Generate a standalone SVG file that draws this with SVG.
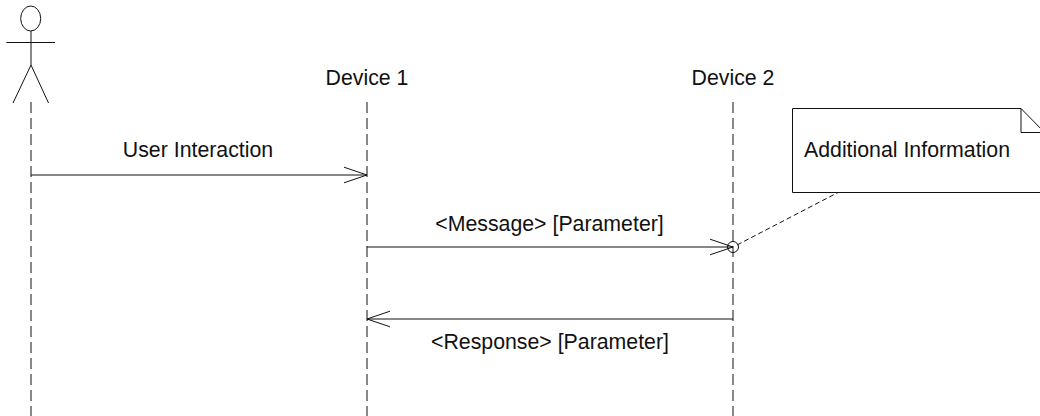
<svg xmlns="http://www.w3.org/2000/svg" width="1040" height="416" viewBox="0 0 1040 416">
<style>
text{font-family:"Liberation Sans",Arial,sans-serif;font-size:21.3px;fill:#111;text-anchor:middle}
.l{fill:none;stroke:#111;stroke-width:1}
.life{fill:none;stroke:#111;stroke-width:1;stroke-dasharray:11 5}
</style>
<defs>
<marker id="open" markerUnits="userSpaceOnUse" markerWidth="28" markerHeight="20" refX="24" refY="10" orient="auto">
<path d="M1 2.200L24 10L1 17.800" fill="none" stroke="#111" stroke-width="1"/>
</marker>
</defs>
<g id="connectors">
<path class="life" d="M31 102V416"/>
<path class="life" d="M367 102V416"/>
<path class="life" d="M733 102V416"/>
<path class="l" marker-end="url(#open)" d="M31 175H367"/>
<path class="l" marker-end="url(#open)" d="M367 247H733"/>
<path class="l" marker-end="url(#open)" d="M733 319H367"/>
<path class="l" stroke-dasharray="5 3" d="M737 245L838 192.500"/>
</g>
<g id="actor">
<ellipse class="l" cx="30.700" cy="18.500" rx="10" ry="12.500"/>
<path class="l" d="M31 31V65M6.500 42.500H55M31 65L13 103M31 65L48.500 103"/>
</g>
<g id="device1"><text x="367" y="85">Device 1</text></g>
<g id="device2"><text x="733" y="85">Device 2</text></g>
<g id="note">
<path d="M792.500 108.500H1021L1050 138V192.500H792.500Z" fill="#fff" stroke="#111"/>
<path class="l" d="M1021 108.500V132.500H1041"/>
<text x="907" y="157">Additional Information</text>
</g>
<g id="anchor"><circle class="l" cx="733" cy="247" r="5.500"/></g>
<g id="labels">
<text x="198" y="157">User Interaction</text>
<text x="549.500" y="231">&lt;Message&gt; [Parameter]</text>
<text x="550" y="349">&lt;Response&gt; [Parameter]</text>
</g>
</svg>
